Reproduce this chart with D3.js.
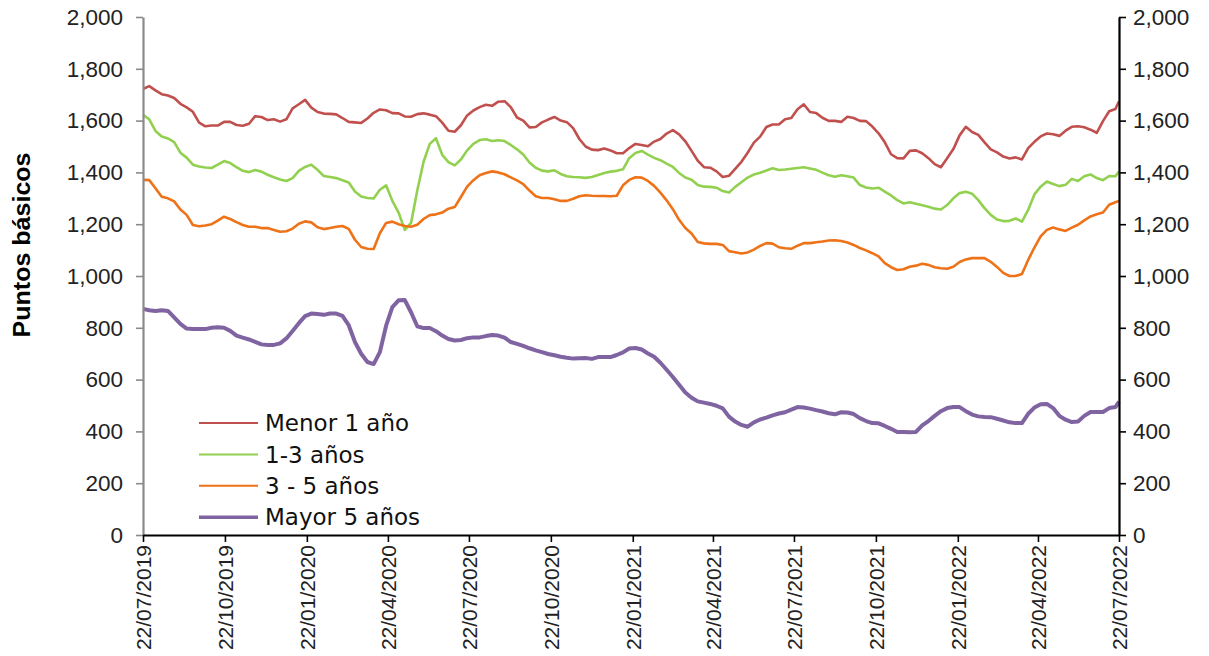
<!DOCTYPE html>
<html>
<head>
<meta charset="utf-8">
<script src="https://cdn.jsdelivr.net/npm/d3@7"></script>
<style>
  body { margin: 0; background: #fff; }
  .tick text { font-family: "Liberation Sans", Arial, sans-serif; fill: #222; }
</style>
</head>
<body>
<div id="chart"></div>
<script>
// fechas semanales (lunes) desde 22/07/2019 mas el ultimo dato del 22/07/2022
var fechaInicio = new Date(2019, 6, 22);
var fechaFin = new Date(2022, 6, 22);
var fechas = d3.timeMonday.range(fechaInicio, new Date(2022, 6, 19)).concat([fechaFin]);

var etiquetasX = ["22/07/2019", "22/10/2019", "22/01/2020", "22/04/2020", "22/07/2020", "22/10/2020",
  "22/01/2021", "22/04/2021", "22/07/2021", "22/10/2021", "22/01/2022", "22/04/2022", "22/07/2022"];
var ticksY = [0, 200, 400, 600, 800, 1000, 1200, 1400, 1600, 1800, 2000];

var menor1 = [
  1722,1733,1717,1702,1697,1687,1665,1651,1634,1592,
  1578,1581,1581,1595,1595,1583,1580,1588,1617,1614,
  1602,1605,1596,1605,1647,1663,1680,1650,1633,1627,
  1626,1624,1610,1595,1593,1591,1608,1630,1643,1640,
  1629,1628,1616,1615,1625,1628,1623,1617,1592,1561,
  1557,1582,1620,1639,1652,1661,1657,1673,1675,1652,
  1612,1600,1574,1575,1593,1604,1614,1600,1594,1571,
  1529,1500,1488,1486,1492,1485,1474,1474,1494,1510,
  1506,1501,1519,1529,1550,1563,1547,1520,1483,1445,
  1420,1418,1404,1382,1387,1414,1441,1476,1515,1538,
  1575,1585,1585,1605,1610,1644,1663,1633,1629,1611,
  1599,1599,1595,1615,1610,1599,1598,1577,1551,1516,
  1470,1455,1454,1483,1485,1474,1455,1432,1420,1455,
  1490,1543,1576,1556,1545,1516,1489,1477,1461,1454,
  1458,1450,1494,1518,1539,1550,1547,1541,1561,1576,
  1578,1574,1565,1553,1598,1636,1645,1675];

var de1a3 = [
  1622,1605,1560,1539,1531,1517,1476,1457,1430,1423,
  1419,1417,1430,1444,1436,1420,1406,1401,1409,1403,
  1391,1381,1373,1367,1378,1406,1421,1430,1410,1386,
  1382,1378,1370,1361,1326,1307,1301,1299,1333,1350,
  1290,1245,1178,1205,1330,1440,1510,1532,1468,1440,
  1427,1450,1485,1510,1525,1528,1521,1524,1521,1506,
  1489,1469,1438,1418,1407,1404,1408,1394,1385,1382,
  1381,1379,1382,1390,1398,1403,1406,1412,1455,1475,
  1483,1469,1456,1447,1434,1421,1398,1380,1372,1351,
  1345,1344,1341,1328,1322,1344,1362,1380,1392,1399,
  1407,1416,1409,1411,1414,1417,1420,1415,1410,1399,
  1389,1383,1389,1385,1380,1351,1342,1338,1341,1326,
  1311,1293,1280,1285,1279,1273,1267,1260,1257,1274,
  1300,1320,1325,1318,1293,1262,1236,1218,1212,1213,
  1222,1210,1255,1315,1345,1365,1355,1347,1352,1375,
  1367,1385,1392,1378,1370,1386,1385,1403];

var de3a5 = [
  1371,1370,1339,1306,1300,1288,1257,1236,1197,1192,
  1195,1200,1214,1229,1220,1208,1197,1190,1190,1185,
  1185,1178,1171,1173,1183,1202,1211,1207,1188,1181,
  1185,1190,1193,1182,1140,1112,1105,1104,1165,1205,
  1210,1200,1193,1190,1198,1220,1235,1238,1245,1260,
  1266,1305,1345,1370,1389,1398,1404,1400,1393,1381,
  1369,1355,1330,1308,1301,1301,1296,1290,1290,1298,
  1308,1312,1310,1309,1309,1308,1310,1350,1371,1381,
  1380,1367,1348,1322,1292,1258,1217,1185,1164,1131,
  1126,1124,1124,1120,1096,1092,1087,1091,1102,1116,
  1127,1125,1111,1107,1105,1117,1127,1127,1130,1133,
  1137,1138,1135,1129,1120,1108,1099,1088,1076,1050,
  1034,1023,1026,1036,1040,1047,1043,1034,1030,1028,
  1036,1054,1064,1069,1069,1069,1055,1035,1012,1000,
  1000,1008,1062,1110,1153,1178,1187,1180,1174,1187,
  1198,1215,1230,1238,1245,1275,1285,1290];

var mayor5 = [
  873,868,865,868,865,840,815,797,795,795,
  795,800,802,800,788,770,762,755,746,736,
  734,734,740,759,788,818,845,855,853,850,
  855,855,846,810,745,700,668,660,706,808,
  880,906,907,860,806,799,799,787,770,757,
  751,753,760,763,763,768,772,770,762,745,
  738,730,721,713,706,699,694,688,684,681,
  682,683,680,687,687,687,695,705,720,722,
  716,701,688,665,638,610,580,550,530,516,
  511,506,499,489,457,438,425,418,435,446,
  453,462,469,474,484,494,492,488,482,477,
  470,466,474,473,467,451,440,432,431,421,
  410,398,398,397,398,423,440,460,478,490,
  494,494,478,465,458,456,455,449,442,435,
  432,432,468,492,505,506,490,460,445,436,
  438,460,475,475,475,490,494,515];

var series = [
  { nombre: "Menor 1 año", valores: menor1, color: "#C0504D", ancho: 2.6, anchoLeyenda: 2 },
  { nombre: "1-3 años", valores: de1a3, color: "#92D050", ancho: 2.6, anchoLeyenda: 2 },
  { nombre: "3 - 5 años", valores: de3a5, color: "#EE7218", ancho: 2.6, anchoLeyenda: 2 },
  { nombre: "Mayor 5 años", valores: mayor5, color: "#8064A2", ancho: 4, anchoLeyenda: 3.5 }
];

var margin = { top: 17, right: 90, bottom: 121, left: 143 };
var width = 976, height = 518;

var svg = d3.select("#chart").append("svg")
    .attr("width", width + margin.left + margin.right)
    .attr("height", height + margin.top + margin.bottom)
  .append("g")
    .attr("transform", "translate(" + margin.left + "," + margin.top + ")");

var parseFecha = d3.timeParse("%d/%m/%Y");
var x = d3.scaleTime().domain([fechaInicio, fechaFin]).range([0, width]);
var y = d3.scaleLinear().domain([0, 2000]).range([height, 0]);

var line = d3.line()
    .x(function (d, i) { return x(fechas[i]); })
    .y(function (d) { return y(d); });

// series
svg.selectAll(".serie")
    .data(series)
  .enter().append("path")
    .attr("class", "serie")
    .attr("fill", "none")
    .attr("stroke", function (d) { return d.color; })
    .attr("stroke-width", function (d) { return d.ancho; })
    .attr("stroke-linejoin", "round")
    .attr("d", function (d) { return line(d.valores); });

// eje izquierdo (gris)
var ejeIzq = svg.append("g")
    .call(d3.axisLeft(y).tickValues(ticksY).tickSize(7).tickSizeOuter(0).tickPadding(13).tickFormat(d3.format(",")));
ejeIzq.select(".domain").attr("stroke", "#8a8a8a").attr("stroke-width", 2.2);
ejeIzq.selectAll(".tick line").attr("stroke", "#8a8a8a").attr("stroke-width", 1.6);
ejeIzq.selectAll(".tick text").style("font-size", "22.5px");

// eje derecho (negro)
var ejeDer = svg.append("g")
    .attr("transform", "translate(" + width + ",0)")
    .call(d3.axisRight(y).tickValues(ticksY).tickSize(7).tickSizeOuter(0).tickPadding(7).tickFormat(d3.format(",")));
ejeDer.select(".domain").attr("stroke", "#000").attr("stroke-width", 2.2);
ejeDer.selectAll(".tick line").attr("stroke", "#000").attr("stroke-width", 1.6);
ejeDer.selectAll(".tick text").style("font-size", "22.5px");

// eje inferior con fechas verticales
var ejeX = svg.append("g")
    .attr("transform", "translate(0," + height + ")")
    .call(d3.axisBottom(x).tickValues(etiquetasX.map(parseFecha)).tickSize(7).tickSizeOuter(0)
      .tickFormat(d3.timeFormat("%d/%m/%Y")));
ejeX.select(".domain").attr("stroke", "#000").attr("stroke-width", 2.2);
ejeX.selectAll(".tick line").attr("stroke", "#000").attr("stroke-width", 1.6);
ejeX.selectAll(".tick text")
    .style("font-size", "21px")
    .attr("text-anchor", "end")
    .attr("transform", "rotate(-90)")
    .attr("x", -10)
    .attr("y", 0)
    .attr("dy", "0.35em");

// titulo eje y
svg.append("text")
    .attr("transform", "translate(" + (22 - margin.left) + "," + (245 - margin.top) + ") rotate(-90)")
    .attr("text-anchor", "middle")
    .attr("dy", "0.35em")
    .style("font-family", "'Liberation Sans', Arial, sans-serif")
    .style("font-weight", "bold")
    .style("font-size", "23px")
    .attr("textLength", 185)
    .attr("lengthAdjust", "spacingAndGlyphs")
    .text("Puntos básicos");

// leyenda
var leyenda = svg.append("g")
    .attr("transform", "translate(" + (199 - margin.left) + "," + (423 - margin.top) + ")");
var item = leyenda.selectAll(".item")
    .data(series)
  .enter().append("g")
    .attr("class", "item")
    .attr("transform", function (d, i) { return "translate(0," + (i * 31.4) + ")"; });
item.append("line")
    .attr("x1", 0).attr("x2", 59)
    .attr("stroke", function (d) { return d.color; })
    .attr("stroke-width", function (d) { return d.anchoLeyenda; });
item.append("text")
    .attr("x", 66)
    .attr("dy", "0.36em")
    .style("font-family", "'DejaVu Sans', sans-serif")
    .style("font-size", "23px")
    .style("fill", "#111")
    .text(function (d) { return d.nombre; });
</script>
</body>
</html>
